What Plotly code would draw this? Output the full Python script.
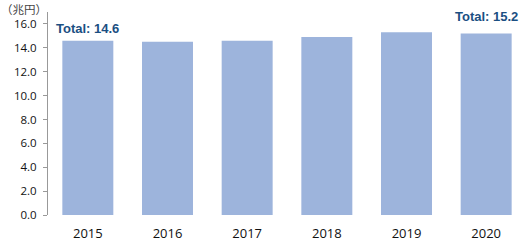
import plotly.graph_objects as go

years = ["2015", "2016", "2017", "2018", "2019", "2020"]
values = [14.6, 14.5, 14.6, 14.9, 15.3, 15.2]
label_years = ["2015", "2020"]
label_texts = ["Total: 14.6", "Total: 15.2"]
label_y = [15.6, 16.6]
ytick_vals = [0, 2, 4, 6, 8, 10, 12, 14, 16]
ytick_text = ["0.0", "2.0", "4.0", "6.0", "8.0", "10.0", "12.0", "14.0", "16.0"]

fig = go.Figure()
fig.add_trace(go.Bar(x=years, y=values, marker=dict(color="#9DB4DC", line=dict(width=0)),
                     width=0.64, hoverinfo="skip"))

for yr, txt, yy in zip(label_years, label_texts, label_y):
    fig.add_annotation(x=years.index(yr), y=yy, text="<b>" + txt + "</b>", showarrow=False,
                       xanchor="center", yanchor="middle",
                       font=dict(family="Liberation Sans, Arial", size=13, color="#1B4F82"))

fig.add_annotation(xref="paper", yref="paper", x=-0.1, y=1.0, xanchor="left", yanchor="middle",
                   yshift=3, borderpad=0, text="（兆円）", showarrow=False,
                   font=dict(family="Noto Sans CJK JP", size=11.5, color="#444444"))

fig.update_layout(
    width=528, height=243,
    margin=dict(l=48, r=2, t=12, b=28),
    paper_bgcolor="white", plot_bgcolor="white",
    showlegend=False,
    xaxis=dict(type="category", categoryorder="array", categoryarray=years,
               range=[-0.5, len(years) - 0.5], autorange=False,
               showline=False, ticks="", showgrid=False, ticklabelstandoff=9,
               tickfont=dict(family="Open Sans", size=13, color="#111111")),
    yaxis=dict(range=[0, 17], autorange=False, tickvals=ytick_vals, ticktext=ytick_text,
               showgrid=False, zeroline=False, showline=True, linecolor="#999999", linewidth=1,
               ticks="outside", ticklen=4, tickcolor="#999999", ticklabelstandoff=4,
               tickfont=dict(family="Open Sans", size=11.5, color="#111111")),
)

fig.write_html("out.html")
